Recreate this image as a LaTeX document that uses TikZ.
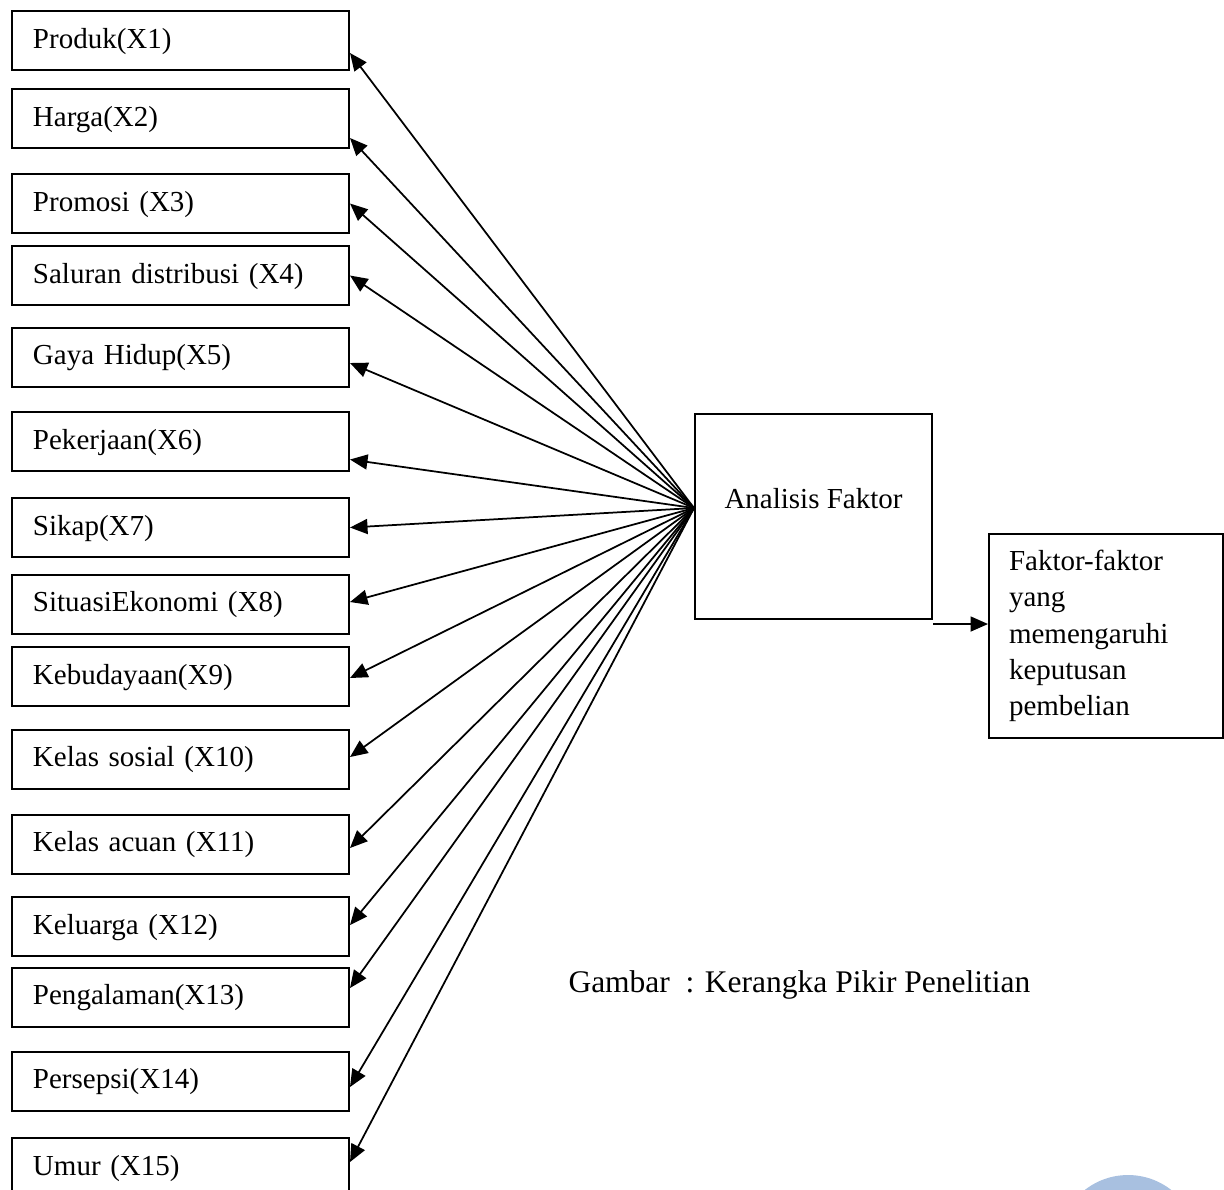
\documentclass[tikz,border=0pt]{standalone}
\usepackage{fontspec}
\setmainfont{Liberation Serif}
\usetikzlibrary{arrows.meta}
\definecolor{markblue}{RGB}{168,192,224}
\tikzset{
  varbox/.style={draw, line width=0.8pt, minimum width=134.8pt, minimum height=23.6pt,
    inner xsep=8.4pt, text width=118pt, align=left, text height=0.8em, text depth=0.2em},
  arr/.style={-{Triangle[length=7pt,width=6pt]}, line width=0.7pt},
}

\begin{document}
\begin{tikzpicture}[x=0.4pt, y=-0.4pt, font=\fontsize{11.6}{14.5}\selectfont]
    \useasboundingbox (0, 0) rectangle (1224, 1189);
    % faint round mark at the bottom edge
    \begin{scope}
      \clip (0, 0) rectangle (1224, 1189);
      \fill[markblue] (1128, 1245) circle (70);
    \end{scope}

    % variables
    \node[varbox] (x1) at (180.5, 40.5) {Produk(X1)};
    \node[varbox] (x2) at (180.5, 118.5) {Harga(X2)};
    \node[varbox] (x3) at (180.5, 203.5) {Promosi (X3)};
    \node[varbox] (x4) at (180.5, 275.5) {Saluran distribusi (X4)};
    \node[varbox] (x5) at (180.5, 357) {Gaya Hidup(X5)};
    \node[varbox] (x6) at (180.5, 441.5) {Pekerjaan(X6)};
    \node[varbox] (x7) at (180.5, 527.5) {Sikap(X7)};
    \node[varbox] (x8) at (180.5, 604) {SituasiEkonomi (X8)};
    \node[varbox] (x9) at (180.5, 676.5) {Kebudayaan(X9)};
    \node[varbox] (x10) at (180.5, 759) {Kelas sosial (X10)};
    \node[varbox] (x11) at (180.5, 844) {Kelas acuan (X11)};
    \node[varbox] (x12) at (180.5, 926.5) {Keluarga (X12)};
    \node[varbox] (x13) at (180.5, 997) {Pengalaman(X13)};
    \node[varbox] (x14) at (180.5, 1081) {Persepsi(X14)};
    \node[varbox] (x15) at (180.5, 1167.5) {Umur (X15)};

    \node[draw, line width=0.8pt, minimum width=94.8pt, minimum height=82pt,
      label={[yshift=6.2pt, text height=0.8em, text depth=0.2em]center:Analisis Faktor}]
      (ana) at (813.5, 516.5) {};
    \node[draw, line width=0.8pt, minimum width=93.6pt, minimum height=81.6pt,
      inner xsep=8pt, text width=77.6pt, align=left]
      (hasil) at (1106, 636) {Faktor-faktor\\yang\\memengaruhi\\keputusan\\pembelian};

    \coordinate (hub) at ([yshift=3.4pt]ana.west);
    \coordinate (out) at ([yshift=-1.6pt]ana.south east);

    % arrows
    \draw[arr] (hub) -- ([yshift=-5pt]x1.east);
    \draw[arr] (hub) -- ([yshift=-7.8pt]x2.east);
    \draw[arr] (hub) -- (x3.east);
    \draw[arr] (hub) -- (x4.east);
    \draw[arr] (hub) -- ([yshift=-2.4pt]x5.east);
    \draw[arr] (hub) -- ([yshift=-7.2pt]x6.east);
    \draw[arr] (hub) -- (x7.east);
    \draw[arr] (hub) -- ([yshift=0.8pt]x8.east);
    \draw[arr] (hub) -- ([yshift=-0.6pt]x9.east);
    \draw[arr] (hub) -- ([yshift=0.8pt]x10.east);
    \draw[arr] (hub) -- ([yshift=-1.6pt]x11.east);
    \draw[arr] (hub) -- ([yshift=0.6pt]x12.east);
    \draw[arr] (hub) -- ([yshift=3.6pt]x13.east);
    \draw[arr] (hub) -- ([yshift=-2.4pt]x14.east);
    \draw[arr] (hub) -- ([yshift=2.2pt]x15.east);
    \draw[arr] (out) -- (out -| hasil.west);

    \node[anchor=base west, inner sep=0pt, font=\fontsize{12.6}{15}\selectfont] (caption) at (568, 992)
      {Gambar\ \ : Kerangka Pikir Penelitian};
  \end{tikzpicture}
\end{document}
